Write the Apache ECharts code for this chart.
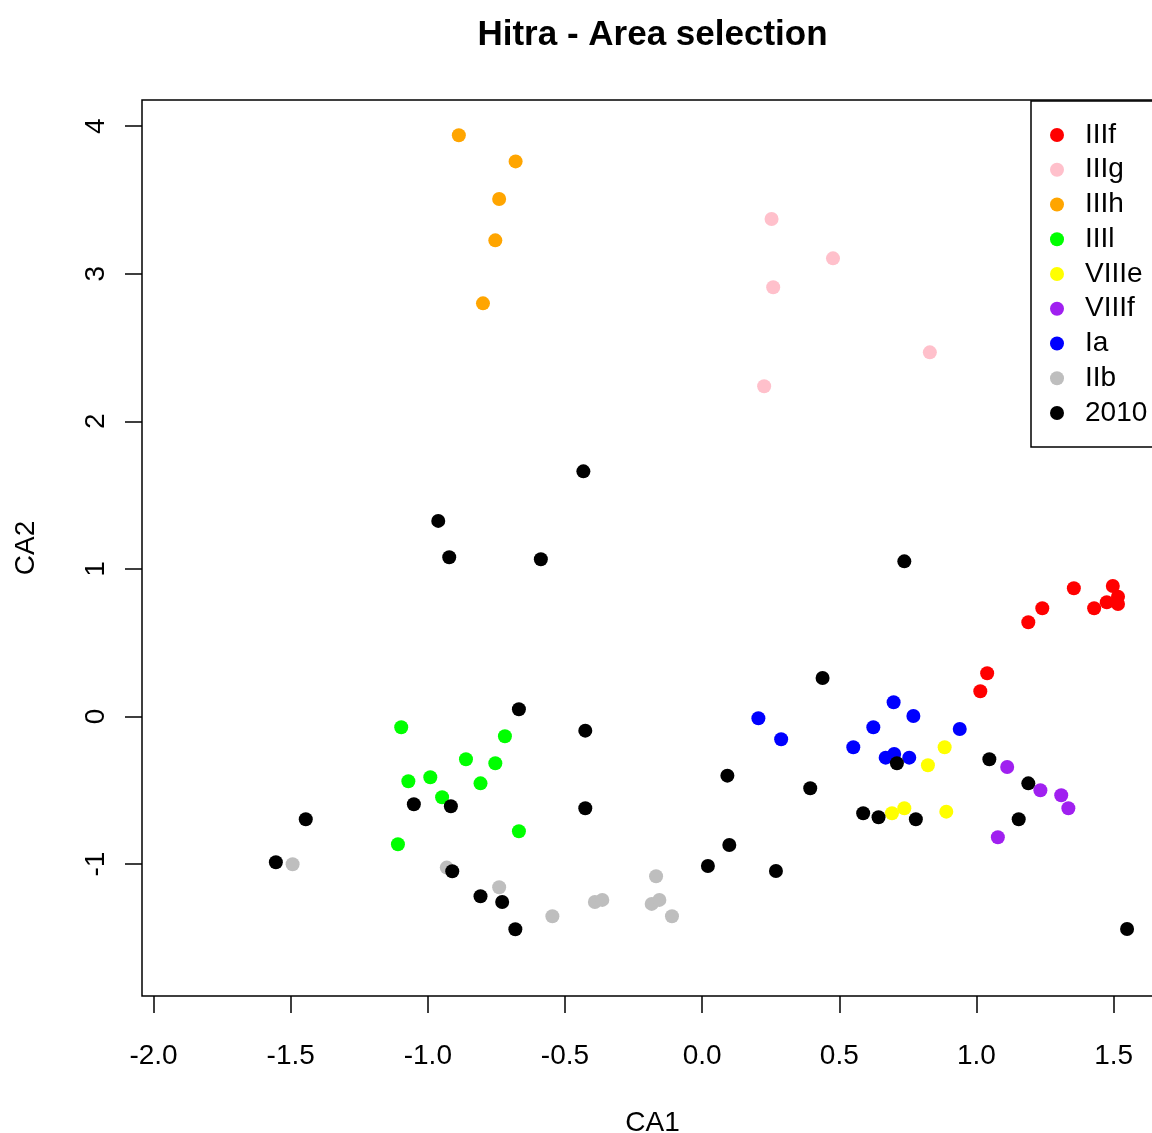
<!DOCTYPE html>
<html>
<head>
<meta charset="utf-8">
<script src="https://cdn.jsdelivr.net/npm/echarts@6/dist/echarts.min.js"></script>
<style>
html,body{margin:0;padding:0;background:#fff;overflow:hidden;}
#chart{width:1305px;height:1133px;}
</style>
</head>
<body>
<div id="chart"></div>
<script>
// ---- data ----
const groupNames = ["IIIf", "IIIg", "IIIh", "IIIl", "VIIIe", "VIIIf", "Ia", "IIb", "2010"];
const groupColors = ["#FF0000", "#FFC0CB", "#FFA500", "#00FF00", "#FFFF00", "#A020F0", "#0000FF", "#BEBEBE", "#000000"];

const IIIf_x = [1.355, 1.497, 1.516, 1.475, 1.516, 1.429, 1.240, 1.189, 1.039, 1.014];
const IIIf_y = [0.869, 0.884, 0.812, 0.774, 0.762, 0.733, 0.733, 0.638, 0.293, 0.171];

const IIIg_x = [0.253, 0.477, 0.259, 0.830, 0.226];
const IIIg_y = [3.371, 3.104, 2.908, 2.467, 2.237];

const IIIh_x = [-0.887, -0.680, -0.740, -0.754, -0.799];
const IIIh_y = [3.938, 3.761, 3.506, 3.226, 2.799];

const IIIl_x = [-1.097, -0.719, -0.861, -0.754, -1.071, -0.991, -0.808, -0.948, -0.668, -1.109];
const IIIl_y = [-0.073, -0.134, -0.290, -0.317, -0.439, -0.412, -0.453, -0.547, -0.778, -0.866];

const VIIIe_x = [0.884, 0.823, 0.692, 0.737, 0.890];
const VIIIe_y = [-0.209, -0.331, -0.656, -0.622, -0.645];

const VIIIf_x = [1.112, 1.233, 1.309, 1.335, 1.078];
const VIIIf_y = [-0.342, -0.500, -0.534, -0.622, -0.818];

const Ia_x = [0.205, 0.288, 0.551, 0.624, 0.698, 0.770, 0.939, 0.669, 0.700, 0.755];
const Ia_y = [-0.012, -0.154, -0.209, -0.073, 0.096, 0.003, -0.085, -0.279, -0.254, -0.279];

const IIb_x = [-1.493, -0.931, -0.740, -0.546, -0.391, -0.364, -0.168, -0.184, -0.156, -0.110];
const IIb_y = [-1.001, -1.024, -1.157, -1.354, -1.257, -1.243, -1.083, -1.270, -1.243, -1.354];

const y2010_x = [-0.433, -0.962, -0.922, -0.588, 0.737, 0.439, -0.668, -0.426, 0.092, 0.394,
                 0.710, 1.047, 1.189, 1.154, 1.549, 0.587, 0.643, 0.779, -1.051, -0.916,
                 -1.445, -1.554, -0.911, -0.808, -0.729, -0.681, -0.426, 0.021, 0.099, 0.269];
const y2010_y = [1.661, 1.325, 1.079, 1.065, 1.051, 0.261, 0.049, -0.096, -0.401, -0.486,
                 -0.317, -0.290, -0.453, -0.696, -1.440, -0.656, -0.683, -0.696, -0.595, -0.608,
                 -0.696, -0.988, -1.049, -1.218, -1.257, -1.442, -0.622, -1.013, -0.871, -1.047];

const groupX = [IIIf_x, IIIg_x, IIIh_x, IIIl_x, VIIIe_x, VIIIf_x, Ia_x, IIb_x, y2010_x];
const groupY = [IIIf_y, IIIg_y, IIIh_y, IIIl_y, VIIIe_y, VIIIf_y, Ia_y, IIb_y, y2010_y];

const xTicks = [-2.0, -1.5, -1.0, -0.5, 0.0, 0.5, 1.0, 1.5];
const yTicks = [-1, 0, 1, 2, 3, 4];

const titleText = "Hitra - Area selection";
const xName = "CA1";
const yName = "CA2";

// ---- chart ----
const FONT = "'Liberation Sans', Arial, Helvetica, sans-serif";
const chart = echarts.init(document.getElementById('chart'), null, {renderer: 'canvas'});

const series = groupNames.map((name, i) => ({
  name: name,
  type: 'scatter',
  symbol: 'circle',
  symbolSize: 14,
  itemStyle: {color: groupColors[i], opacity: 1},
  emphasis: {disabled: true},
  data: groupX[i].map((x, k) => [x, groupY[i][k]])
}));

chart.setOption({
  animation: false,
  backgroundColor: '#ffffff',
  title: {
    text: titleText,
    left: 'center',
    top: 18,
    padding: 0,
    textStyle: {fontFamily: FONT, fontSize: 35, fontWeight: 'bold', color: '#000'}
  },
  legend: {
    orient: 'vertical',
    left: 1031,
    top: 101,
    padding: [20, 15, 20, 19],
    itemGap: 6.75,
    itemWidth: 46,
    itemHeight: 14,
    icon: 'circle',
    selectedMode: false,
    borderColor: '#000',
    borderWidth: 1.5,
    borderRadius: 0,
    textStyle: {fontFamily: FONT, fontSize: 28, color: '#000', lineHeight: 28},
    data: groupNames
  },
  grid: {
    left: 142, right: 142, top: 100, bottom: 137,
    show: true, borderColor: '#000', borderWidth: 1.5,
    containLabel: false,
    outerBoundsMode: 'none'
  },
  xAxis: {
    type: 'value',
    min: -2.042, max: 1.680,
    splitLine: {show: false},
    axisLine: {show: false, onZero: false},
    axisTick: {show: true, length: 17, inside: false, lineStyle: {color: '#000', width: 1.5}, customValues: xTicks},
    axisLabel: {
      show: true, margin: 46, color: '#000', fontFamily: FONT, fontSize: 28,
      customValues: xTicks,
      formatter: v => v.toFixed(1)
    },
    name: xName,
    nameLocation: 'middle',
    nameGap: 113,
    nameTextStyle: {fontFamily: FONT, fontSize: 28, color: '#000'}
  },
  yAxis: {
    type: 'value',
    min: -1.894, max: 4.177,
    splitLine: {show: false},
    axisLine: {show: false, onZero: false},
    axisTick: {show: true, length: 17, inside: false, lineStyle: {color: '#000', width: 1.5}, customValues: yTicks},
    axisLabel: {
      show: true, margin: 32, rotate: 90, color: '#000', fontFamily: FONT, fontSize: 28,
      customValues: yTicks,
      formatter: v => String(Math.round(v))
    },
    name: yName,
    nameLocation: 'middle',
    nameGap: 102,
    nameRotate: 90,
    nameTextStyle: {fontFamily: FONT, fontSize: 28, color: '#000'}
  },
  series: series
});
</script>
</body>
</html>
